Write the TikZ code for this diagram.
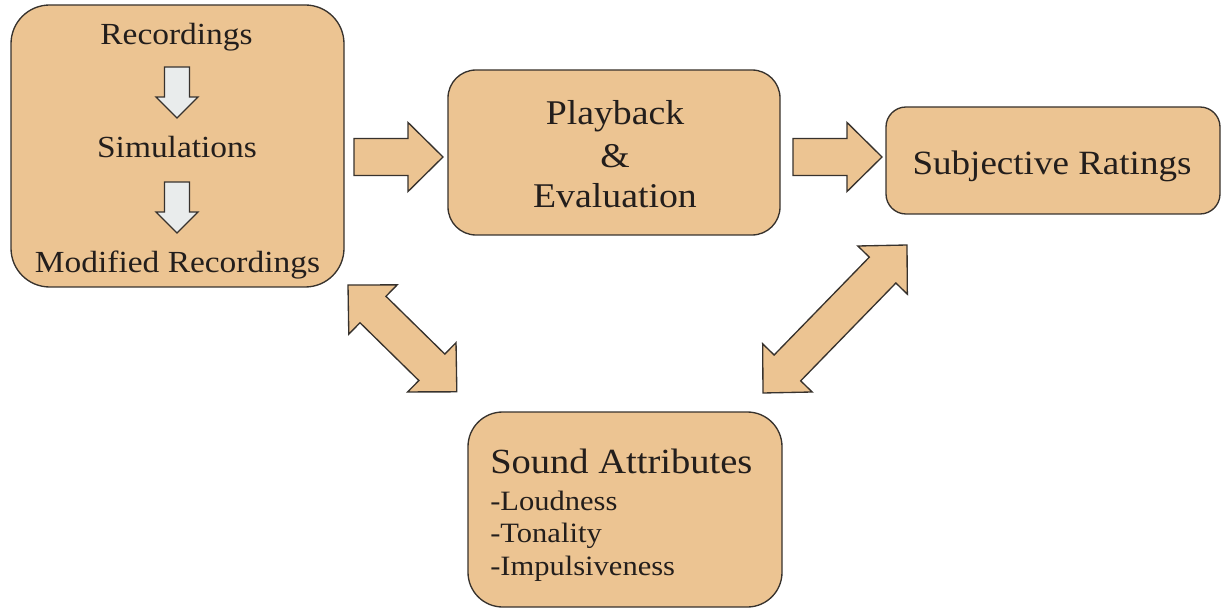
\documentclass[tikz,border=0pt]{standalone}
\usepackage{fontspec}
\setmainfont[FakeStretch=1.09]{Liberation Serif}
\usetikzlibrary{calc}
\definecolor{boxfill}{RGB}{236,196,146}
\definecolor{edge}{RGB}{55,50,45}
\definecolor{ink}{RGB}{35,30,28}
\definecolor{smallfill}{RGB}{233,236,236}
\tikzset{
  box/.style={draw=edge, fill=boxfill, line width=1pt, rectangle, inner sep=0pt},
  lbl/.style={anchor=base, inner sep=0pt, text=ink},
  lbll/.style={anchor=base west, inner sep=0pt, text=ink},
  barrow/.style={draw=edge, fill=boxfill, line width=1pt, line join=miter},
  sarrow/.style={draw=edge, fill=smallfill, line width=1pt, line join=miter},
}
% single block arrow: style, from, to, shaft half width, head half width, head length
\newcommand\singleblock[6]{%
  \path[#1] let \p1=(#2), \p2=(#3), \n1={atan2(\y2-\y1,\x2-\x1)}, \n2={veclen(\x2-\x1,\y2-\y1)} in
    [shift={(\p1)}, rotate=\n1]
    (0pt,#4) -- ({\n2-#6},#4) -- ({\n2-#6},#5) -- (\n2,0pt) -- ({\n2-#6},-#5)
    -- ({\n2-#6},-#4) -- (0pt,-#4) -- cycle;}
% double block arrow
\newcommand\doubleblock[6]{%
  \path[#1] let \p1=(#2), \p2=(#3), \n1={atan2(\y2-\y1,\x2-\x1)}, \n2={veclen(\x2-\x1,\y2-\y1)} in
    [shift={(\p1)}, rotate=\n1]
    (0pt,0pt) -- (#6,#5) -- (#6,#4) -- ({\n2-#6},#4) -- ({\n2-#6},#5) -- (\n2,0pt)
    -- ({\n2-#6},-#5) -- ({\n2-#6},-#4) -- (#6,-#4) -- (#6,-#5) -- cycle;}
\begin{document}
\begin{tikzpicture}[x=0.75pt, y=-0.75pt]
\useasboundingbox (0,0) rectangle (1224,609);

% boxes
\node[box, minimum width=249.75pt, minimum height=211.5pt, rounded corners=29pt] (b1) at (177.5,146) {};
\node[box, minimum width=249pt, minimum height=123.75pt, rounded corners=21pt] (b2) at (614,152.5) {};
\node[box, minimum width=250.5pt, minimum height=80.25pt, rounded corners=15pt] (b3) at (1053,160.5) {};
\node[box, minimum width=235.5pt, minimum height=146.25pt, rounded corners=26pt] (b4) at (625,509.5) {};

% texts box 1
\node[lbl, font=\fontsize{23pt}{27pt}\selectfont] (rec) at (176.5,45) {Recordings};
\node[lbl, font=\fontsize{23pt}{27pt}\selectfont] (sim) at (177,158) {Simulations};
\node[lbl, font=\fontsize{23pt}{27pt}\selectfont] (mod) at (177.5,273) {Modified Recordings};
% box 2
\node[lbl, font=\fontsize{26pt}{30pt}\selectfont] (play) at (615,125) {Playback};
\node[lbl, font=\fontsize{26pt}{30pt}\selectfont] (amp) at (615,168) {\&};
\node[lbl, font=\fontsize{26pt}{30pt}\selectfont] (eval) at (615,208) {Evaluation};
% box 3
\node[lbl, font=\fontsize{25.5pt}{30pt}\selectfont] (subj) at (1052,175) {Subjective Ratings};
% box 4
\node[lbll, font=\fontsize{26.5pt}{30pt}\selectfont] (snd) at (490,473) {Sound Attributes};
\node[lbll, font=\fontsize{21pt}{25pt}\selectfont] (loud) at (490,510) {-Loudness};
\node[lbll, font=\fontsize{21pt}{25pt}\selectfont] (ton) at (490,542) {-Tonality};
\node[lbll, font=\fontsize{21pt}{25pt}\selectfont] (imp) at (490,575) {-Impulsiveness};

% arrow end points
\coordinate (s1a) at (177,67);  \coordinate (s1b) at (177,118);
\coordinate (s2a) at (177,182); \coordinate (s2b) at (177,233);
\coordinate (h1a) at (354,157); \coordinate (h1b) at (443,157);
\coordinate (h2a) at (793,157); \coordinate (h2b) at (882,157);
\coordinate (d1a) at (348,285); \coordinate (d1b) at (457,392);
\coordinate (d2a) at (763,393); \coordinate (d2b) at (907,245);

% small arrows inside box 1
\singleblock{sarrow}{s1a}{s1b}{9.4pt}{15.75pt}{15.75pt}
\singleblock{sarrow}{s2a}{s2b}{9.4pt}{15.75pt}{15.75pt}
% horizontal block arrows
\singleblock{barrow}{h1a}{h1b}{13.9pt}{25.9pt}{26.25pt}
\singleblock{barrow}{h2a}{h2b}{13.9pt}{25.9pt}{26.25pt}
% diagonal double arrows
\doubleblock{barrow}{d1a}{d1b}{13.9pt}{25.9pt}{26.25pt}
\doubleblock{barrow}{d2a}{d2b}{13.9pt}{25.9pt}{26.25pt}
\end{tikzpicture}
\end{document}
